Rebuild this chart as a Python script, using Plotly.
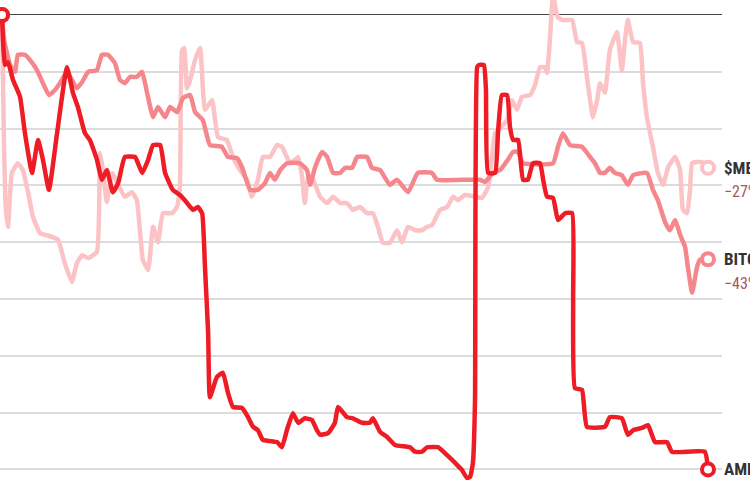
import plotly.graph_objects as go

# Percent change since start, indexed by day
amp_day = [0, 0.85, 1.7, 3.1, 5.1, 6.5, 8.5, 10.2, 11.6, 13.3, 15.6, 18.4, 20.1, 21.5, 23.5, 24.9,
           26.9, 28.3, 29.7, 31.4, 32.9, 34.8, 37.7, 39.7, 41.4, 42.8, 44.8, 46.2, 48.4, 50.4, 51.8,
           54.1, 55.5, 56.7, 57.5, 58.4, 58.9, 60.9, 62.6, 64.0, 65.4, 68.0, 69.7, 71.1, 72.5, 73.9,
           77.9, 79.3, 80.7, 82.4, 83.9, 85.8, 87.8, 89.2, 90.1, 92.4, 94.3, 95.2, 97.7, 99.4, 102.0,
           104.2, 105.1, 107.1, 109.1, 111.3, 115.6, 117.0, 119.0, 120.4, 123.5, 126.1, 128.9, 130.3,
           131.7, 132.6, 133.4, 134.0, 134.6, 135.1, 136.5, 137.1, 137.7, 139.7, 140.5, 141.6, 143.1,
           143.9, 144.8, 146.2, 147.6, 149.0, 150.4, 152.4, 153.3, 154.4, 156.1, 157.5, 159.5, 161.5,
           161.8, 162.3, 164.3, 165.7, 170.8, 172.2, 175.6, 177.3, 178.8, 181.3, 183.0, 185.0, 188.4,
           189.8, 199.1, 200]
amp_pct = [0, -8.8, -8.3, -11.4, -14.4, -20.8, -27.8, -22.0, -25.5, -30.8, -20.8, -9.2, -13.7, -16.2,
           -20.8, -22.0, -25.5, -29.0, -27.3, -31.2, -29.6, -25.0, -25.0, -27.8, -25.5, -22.9, -22.9,
           -27.8, -30.8, -31.7, -32.6, -34.3, -33.8, -34.9, -44.4, -56.0, -67.3, -63.7, -63.0, -66.5,
           -69.0, -69.2, -70.8, -72.5, -73.1, -74.8, -75.2, -76.1, -73.1, -70.1, -71.8, -71.0, -71.3,
           -73.1, -73.9, -73.6, -71.8, -69.0, -70.8, -71.0, -71.8, -71.8, -71.0, -73.4, -74.3, -75.7,
           -76.1, -76.9, -76.9, -76.1, -76.1, -77.5, -79.2, -80.1, -81.5, -81.3, -78.9, -67.8, -9.2,
           -8.8, -8.8, -13.2, -27.8, -27.8, -20.8, -14.1, -14.1, -19.7, -22.0, -22.0, -29.0, -29.0,
           -26.1, -26.1, -29.0, -32.0, -32.2, -36.1, -34.9, -34.9, -50.2, -65.7, -66.0, -72.5, -72.5,
           -70.8, -71.0, -73.9, -73.1, -72.7, -72.2, -75.2, -75.2, -76.9, -76.9, -80.0]

btc_day = [0, 0.6, 2.3, 3.7, 4.5, 6.5, 7.9, 9.9, 11.6, 13.3, 15.0, 16.4, 18.4, 19.8, 21.2, 22.7, 24.4,
           26.9, 28.3, 30.0, 32.0, 33.4, 34.8, 36.3, 38.2, 39.7, 41.1, 42.8, 44.2, 46.2, 47.6, 49.6,
           51.3, 53.3, 54.7, 56.9, 58.9, 62.3, 64.0, 66.6, 68.0, 70.3, 72.5, 74.5, 75.9, 77.3, 78.8,
           80.7, 84.4, 86.4, 87.3, 88.7, 90.7, 92.1, 93.8, 95.8, 97.2, 99.2, 100.6, 103.4, 104.8,
           107.1, 109.9, 111.9, 115.0, 117.8, 121.8, 123.2, 135.4, 136.8, 139.1, 141.1, 143.3, 144.8,
           146.2, 147.6, 156.1, 157.5, 158.9, 160.9, 164.3, 166.6, 168.0, 169.4, 170.8, 172.2, 173.6,
           175.6, 177.3, 178.8, 182.7, 184.4, 185.8, 187.8, 189.2, 190.7, 192.1, 193.5, 194.3, 195.5,
           196.9, 197.7, 200]
btc_pct = [0, -4.4, -8.8, -10.0, -7.0, -7.0, -7.9, -9.7, -12.0, -14.1, -13.2, -12.0, -10.0, -11.4,
           -12.9, -11.8, -10.0, -9.7, -7.0, -7.0, -8.5, -11.4, -12.0, -10.9, -10.9, -10.0, -13.7, -18.0,
           -16.2, -18.0, -16.2, -17.1, -14.6, -14.1, -17.1, -18.5, -22.9, -23.2, -25.0, -25.2, -26.8,
           -30.8, -30.8, -29.6, -27.8, -29.0, -27.3, -26.1, -26.1, -27.3, -29.9, -26.8, -24.1, -25.0,
           -27.8, -27.8, -26.9, -26.9, -25.0, -25.0, -26.9, -27.3, -29.9, -29.0, -31.2, -27.8, -27.8,
           -29.0, -29.0, -29.4, -27.8, -27.3, -25.5, -24.1, -24.1, -26.1, -26.1, -23.2, -20.8, -22.9,
           -23.2, -25.0, -26.1, -27.8, -27.8, -26.9, -27.8, -28.2, -29.9, -28.2, -27.8, -30.8, -32.6,
           -36.4, -37.9, -36.1, -38.7, -40.8, -44.4, -48.9, -44.4, -43.1, -43.0]

meme_day = [0, 0.6, 1.1, 1.7, 2.8, 4.5, 5.9, 7.4, 8.8, 10.8, 14.4, 15.9, 17.8, 19.8, 21.2, 22.7, 24.4,
            26.9, 27.8, 28.6, 29.7, 31.2, 32.9, 34.8, 36.8, 38.2, 39.9, 41.4, 42.8, 44.2, 45.6, 48.2,
            49.6, 50.4, 51.0, 51.6, 52.4, 53.3, 54.7, 56.1, 57.5, 59.5, 61.2, 63.7, 65.4, 67.4, 69.4,
            70.8, 72.5, 73.9, 75.9, 77.9, 79.3, 81.6, 83.0, 83.9, 85.0, 85.8, 86.7, 88.1, 90.1, 92.1,
            93.8, 95.8, 97.7, 99.4, 101.4, 103.4, 105.1, 106.5, 107.9, 109.9, 111.9, 113.3, 115.0,
            117.0, 119.0, 120.4, 121.8, 124.1, 126.1, 127.8, 129.2, 131.2, 134.0, 136.0, 137.7, 138.8,
            139.7, 141.1, 143.1, 144.5, 145.9, 147.3, 149.6, 151.0, 152.4, 153.8, 154.4, 155.2, 156.1,
            156.9, 157.5, 158.9, 161.5, 162.9, 164.3, 165.7, 166.6, 167.4, 168.6, 169.4, 170.8, 172.2,
            174.2, 175.6, 176.5, 177.3, 178.8, 180.7, 181.6, 182.7, 184.4, 185.8, 187.3, 188.7, 190.7,
            192.1, 192.9, 194.1, 194.9, 195.5, 196.9, 198.3, 200]
meme_pct = [0, -23.8, -34.3, -37.3, -27.8, -26.1, -27.3, -31.3, -35.6, -38.4, -39.1, -39.6, -43.7,
            -47.0, -43.7, -42.3, -42.8, -41.7, -24.3, -27.3, -32.9, -27.8, -29.9, -32.0, -31.2, -32.6,
            -43.1, -44.9, -37.3, -40.0, -34.9, -34.9, -33.8, -30.3, -6.2, -5.8, -12.9, -11.4, -7.9,
            -5.8, -16.7, -15.0, -21.5, -22.0, -25.0, -27.3, -29.0, -32.0, -29.0, -25.0, -25.0, -22.9,
            -23.2, -26.1, -25.5, -25.0, -28.5, -33.1, -28.5, -29.0, -32.0, -33.1, -32.0, -33.1, -33.1,
            -34.3, -33.8, -34.9, -34.9, -37.3, -40.1, -40.1, -37.9, -40.0, -37.3, -37.9, -37.9, -37.3,
            -37.0, -34.3, -33.8, -32.0, -32.6, -31.7, -32.0, -32.2, -30.3, -25.0, -20.8, -19.9, -18.5,
            -15.0, -16.7, -14.4, -14.1, -12.3, -9.2, -9.2, -10.2, -4.4, 3.5, 0.9, -0.4, -0.9, -0.9,
            -4.8, -4.9, -10.9, -15.0, -18.0, -15.0, -12.0, -13.7, -6.2, -3.0, -9.7, -4.4, -0.9, -4.8,
            -4.9, -12.0, -18.0, -23.2, -27.8, -29.9, -26.8, -25.0, -27.3, -34.3, -34.9, -30.8, -26.1,
            -25.9, -25.9, -26.9]

series_names = ["$MEME", "BITCOIN", "AMP"]
series_days = [meme_day, btc_day, amp_day]
series_vals = [meme_pct, btc_pct, amp_pct]
series_colors = ["#fbc3c5", "#f5878c", "#ee1c25"]

fig = go.Figure()
for name, d, v, c in zip(series_names, series_days, series_vals, series_colors):
    fig.add_trace(go.Scatter(
        x=d, y=v, mode="lines", name=name,
        line=dict(color=c, width=4.5, shape="spline", smoothing=0.4),
        hoverinfo="skip"))
    fig.add_trace(go.Scatter(
        x=[d[0], d[-1]], y=[v[0], v[-1]], mode="markers",
        marker=dict(size=12, color="white", line=dict(color=c, width=4)),
        cliponaxis=False, hoverinfo="skip"))

for name, d, v in zip(series_names, series_days, series_vals):
    fig.add_annotation(x=d[-1], y=v[-1], xref="x", yref="y", text="<b>%s</b>" % name,
                       showarrow=False, xanchor="left", yanchor="middle", xshift=14,
                       font=dict(family="Roboto Condensed, Roboto, sans-serif", size=17, color="#333333"))
    fig.add_annotation(x=d[-1], y=v[-1], xref="x", yref="y",
                       text="\u2212%d%%" % round(-v[-1]),
                       showarrow=False, xanchor="left", yanchor="middle", xshift=14, yshift=-24,
                       font=dict(family="Roboto Condensed, Roboto, sans-serif", size=16, color="#a8585d"))

fig.update_layout(
    width=750, height=480,
    margin=dict(l=0, r=28, t=0, b=0),
    paper_bgcolor="white", plot_bgcolor="white",
    showlegend=False,
    xaxis=dict(range=[-0.567, 203.97], showgrid=False, zeroline=False, showticklabels=False,
               showline=False, ticks=""),
    yaxis=dict(range=[-81.87, 2.64], dtick=10, tick0=0, showgrid=True, gridcolor="#dcdcdc",
               gridwidth=1.5, zeroline=True, zerolinecolor="#444444", zerolinewidth=1.2,
               showticklabels=False, showline=False, ticks=""),
)

fig.write_html("out.html", config={"displayModeBar": False},
               post_script="document.body.style.margin='0';")
